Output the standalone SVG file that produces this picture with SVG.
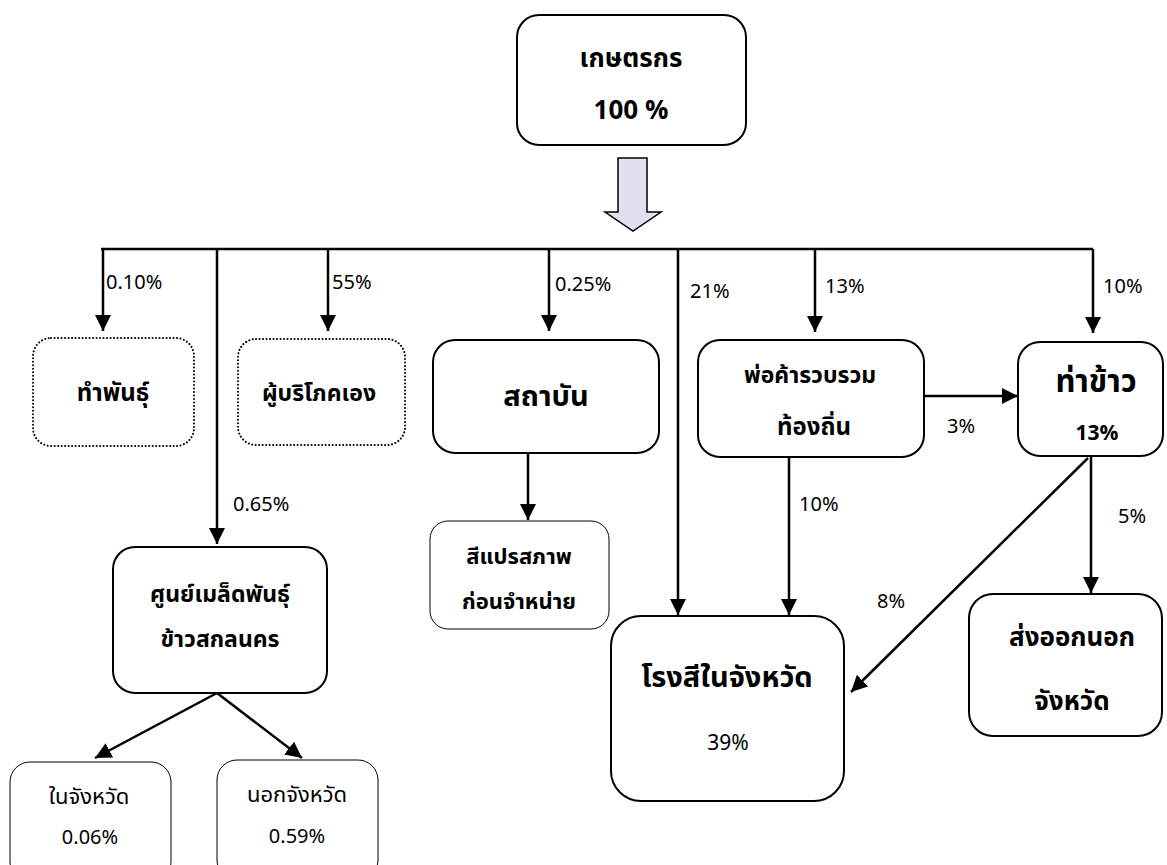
<svg xmlns="http://www.w3.org/2000/svg" width="1167" height="865" viewBox="0 0 1167 865">
<style>
text{font-family:"Noto Sans Thai","Noto Sans","DejaVu Sans",sans-serif;fill:#000;text-anchor:middle;dominant-baseline:central}
.b{font-weight:bold}
.lbl{font-size:20px;text-anchor:start}
.box{fill:#fff;stroke:#000;stroke-width:2}
.thin{fill:#fff;stroke:#000;stroke-width:1}
.dot{fill:#fff;stroke:#000;stroke-width:2;stroke-dasharray:0.1 3.4;stroke-linecap:round}
.ln{fill:none;stroke:#000;stroke-width:2.5}
</style>
<defs>
<marker id="ah" viewBox="0 0 10 10" refX="10" refY="5" markerWidth="6.5" markerHeight="6.5" markerUnits="strokeWidth" orient="auto">
<path d="M0,0 L10,5 L0,10 z" fill="#000"/>
</marker>
</defs>
<g id="n-farmer">
<rect class="box" x="517" y="15" width="229" height="130" rx="22"/>
<text class="b" x="631" y="59" font-size="26">เกษตรกร</text>
<text class="b" x="631" y="111" font-size="26">100 %</text>
</g>
<g id="bigarrow">
<path d="M618,158 L647,158 L647,212 L661,212 L633,231 L605,212 L618,212 Z" fill="#e4dff0" stroke="#000" stroke-width="1.5"/>
</g>
<g id="connectors">
<line class="ln" x1="101" y1="249" x2="1093" y2="249"/>
<line class="ln" x1="103" y1="249" x2="103" y2="331" marker-end="url(#ah)"/>
<line class="ln" x1="217" y1="249" x2="217" y2="544" marker-end="url(#ah)"/>
<line class="ln" x1="328" y1="249" x2="328" y2="331" marker-end="url(#ah)"/>
<line class="ln" x1="549" y1="249" x2="549" y2="331" marker-end="url(#ah)"/>
<line class="ln" x1="678" y1="249" x2="678" y2="615" marker-end="url(#ah)"/>
<line class="ln" x1="815" y1="249" x2="815" y2="332" marker-end="url(#ah)"/>
<line class="ln" x1="1093" y1="249" x2="1093" y2="333" marker-end="url(#ah)"/>
<line class="ln" x1="528" y1="453" x2="528" y2="520" marker-end="url(#ah)"/>
<line class="ln" x1="924" y1="396" x2="1018" y2="396" marker-end="url(#ah)"/>
<line class="ln" x1="789" y1="457" x2="789" y2="615" marker-end="url(#ah)"/>
<line class="ln" x1="1091" y1="457" x2="1091" y2="593" marker-end="url(#ah)"/>
<line class="ln" x1="1088" y1="458" x2="851" y2="692" marker-end="url(#ah)"/>
<line class="ln" x1="217" y1="693" x2="95" y2="758" marker-end="url(#ah)"/>
<line class="ln" x1="217" y1="693" x2="302" y2="758" marker-end="url(#ah)"/>
<text class="lbl" x="106" y="283">0.10%</text>
<text class="lbl" x="332" y="283">55%</text>
<text class="lbl" x="555" y="285">0.25%</text>
<text class="lbl" x="690" y="292">21%</text>
<text class="lbl" x="825" y="287">13%</text>
<text class="lbl" x="1103" y="287">10%</text>
<text class="lbl" x="233" y="505">0.65%</text>
<text class="lbl" x="947" y="427">3%</text>
<text class="lbl" x="799" y="505">10%</text>
<text class="lbl" x="1118" y="517">5%</text>
<text class="lbl" x="877" y="602">8%</text>
</g>
<g id="n-seed">
<rect class="dot" x="33" y="338" width="161" height="108" rx="18"/>
<text class="b" x="113" y="394" font-size="24">ทำพันธุ์</text>
</g>
<g id="n-self">
<rect class="dot" x="238" y="339" width="167" height="106" rx="18"/>
<text class="b" x="319" y="394" font-size="23">ผู้บริโภคเอง</text>
</g>
<g id="n-inst">
<rect class="box" x="433" y="340" width="226" height="113" rx="22"/>
<text class="b" x="546" y="397" font-size="29">สถาบัน</text>
</g>
<g id="n-trader">
<rect class="box" x="698" y="340" width="226" height="117" rx="22"/>
<text class="b" x="810" y="376" font-size="23">พ่อค้ารวบรวม</text>
<text class="b" x="814" y="428" font-size="24">ท้องถิ่น</text>
</g>
<g id="n-port">
<rect class="box" x="1018" y="342" width="145" height="114" rx="22"/>
<text class="b" x="1096" y="382" font-size="31">ท่าข้าว</text>
<text class="b" x="1097" y="433" font-size="21">13%</text>
</g>
<g id="n-color">
<rect class="thin" x="430" y="521" width="179" height="108" rx="18"/>
<text class="b" x="519" y="557" font-size="22">สีแปรสภาพ</text>
<text class="b" x="519" y="602" font-size="22">ก่อนจำหน่าย</text>
</g>
<g id="n-center">
<rect class="box" x="113" y="547" width="214" height="146" rx="22"/>
<text class="b" x="220" y="595" font-size="23">ศูนย์เมล็ดพันธุ์</text>
<text class="b" x="220" y="640" font-size="23">ข้าวสกลนคร</text>
</g>
<g id="n-mill">
<rect class="box" x="611" y="616" width="233" height="185" rx="30"/>
<text class="b" x="727" y="678" font-size="29">โรงสีในจังหวัด</text>
<text x="728" y="743" font-size="21">39%</text>
</g>
<g id="n-export">
<rect class="box" x="969" y="594" width="193" height="142" rx="24"/>
<text class="b" x="1072" y="638" font-size="26">ส่งออกนอก</text>
<text class="b" x="1072" y="702" font-size="26">จังหวัด</text>
</g>
<g id="n-inprov">
<rect class="thin" x="10" y="762" width="161" height="120" rx="20"/>
<text x="89" y="797" font-size="22">ในจังหวัด</text>
<text x="90" y="838" font-size="20">0.06%</text>
</g>
<g id="n-outprov">
<rect class="thin" x="217" y="760" width="161" height="120" rx="20"/>
<text x="297" y="795" font-size="22">นอกจังหวัด</text>
<text x="297" y="837" font-size="20">0.59%</text>
</g>
</svg>
